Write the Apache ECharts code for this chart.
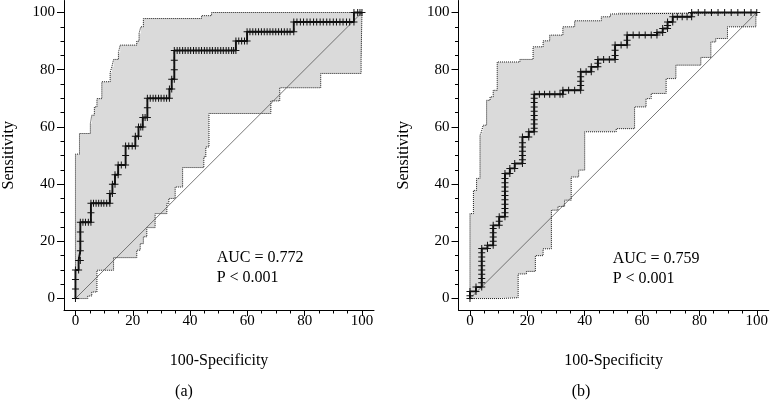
<!DOCTYPE html>
<html><head><meta charset="utf-8">
<script src="https://cdn.jsdelivr.net/npm/echarts@6/dist/echarts.min.js"></script>
<style>html,body{margin:0;padding:0;background:#fff}#c{width:771px;height:401px}</style>
</head><body><div id="c"></div>
<script>
// ---------- data ----------
const majorTicks = [0, 20, 40, 60, 80, 100];
const minorTicks = [5, 10, 15, 25, 30, 35, 45, 50, 55, 65, 70, 75, 85, 90, 95];
const diagonal = [[0, 0], [100, 100]];
const xAxisName = '100-Specificity';
const yAxisName = 'Sensitivity';

const rocA = [[0,0],[0,3.3],[0,6.7],[0,10],[1.1,10],[1.1,13.3],[1.7,13.3],[1.7,16.7],[1.7,20],[1.7,23.3],[1.7,26.7],[2.6,26.7],[3.5,26.7],[4.5,26.7],[5.4,26.7],[5.4,30],[5.4,33.3],[6.3,33.3],[7.2,33.3],[8.1,33.3],[9,33.3],[9.9,33.3],[10.9,33.3],[12,33.3],[12,36.7],[12.9,36.7],[12.9,40],[13.8,40],[13.8,43.3],[14.9,43.3],[14.9,46.7],[16,46.7],[17.5,46.7],[17.5,50],[17.5,53.3],[18.6,53.3],[19.8,53.3],[20.9,53.3],[20.9,56.7],[22,56.7],[22,60],[22.8,60],[23.5,60],[23.5,63.3],[24.3,63.3],[25.1,63.3],[25.1,66.7],[25.1,70],[26.1,70],[27.1,70],[28,70],[29,70],[29.9,70],[30.9,70],[31.8,70],[32.8,70],[32.8,73.3],[33.6,73.3],[33.6,76.7],[34.5,76.7],[34.5,80],[34.5,83.3],[34.5,86.7],[35.5,86.7],[36.4,86.7],[37.4,86.7],[38.3,86.7],[39.3,86.7],[40.2,86.7],[41.2,86.7],[42.1,86.7],[43.1,86.7],[44,86.7],[45,86.7],[45.9,86.7],[46.9,86.7],[47.8,86.7],[48.8,86.7],[49.7,86.7],[50.7,86.7],[51.6,86.7],[52.6,86.7],[53.5,86.7],[54.5,86.7],[55.2,86.7],[56,86.7],[56,90],[57,90],[58,90],[59,90],[59.9,90],[59.9,93.3],[60.9,93.3],[61.9,93.3],[62.9,93.3],[63.9,93.3],[64.9,93.3],[65.9,93.3],[66.9,93.3],[67.9,93.3],[68.9,93.3],[69.9,93.3],[70.9,93.3],[71.9,93.3],[72.9,93.3],[73.9,93.3],[74.9,93.3],[76.2,93.3],[76.2,96.7],[77.3,96.7],[78.5,96.7],[79.6,96.7],[80.8,96.7],[81.9,96.7],[83.1,96.7],[84.2,96.7],[85.4,96.7],[86.5,96.7],[87.7,96.7],[88.8,96.7],[90,96.7],[91.1,96.7],[92.3,96.7],[93.4,96.7],[94.6,96.7],[95.7,96.7],[97.2,96.7],[97.2,100],[98.5,100],[99.3,100],[100,100]];
const upperA = [[0,0],[0,50.5],[1.4,50.5],[1.4,57.7],[5.2,57.7],[5.2,61.2],[5.7,61.2],[5.7,64.1],[6.6,64.1],[6.6,67],[7.5,67],[7.5,69.9],[9.2,69.9],[9.2,75.8],[12.1,75.8],[12.1,79],[12.7,79],[12.7,81],[13.3,81],[13.3,83.6],[15,83.6],[15,86],[15.6,86],[15.6,88.6],[21.4,88.6],[21.4,90],[22.2,90],[22.2,92.7],[22.8,92.7],[22.8,95],[23.7,95],[23.7,97.9],[44,97.9],[44,98.9],[47.5,98.9],[47.5,100],[100,100]];
const lowerA = [[0,0],[4.3,0],[4.3,0.9],[5.7,0.9],[5.7,2.3],[7.5,2.3],[7.5,9.9],[13.3,9.9],[13.3,14.3],[21.4,14.3],[21.4,16.9],[22.6,16.9],[22.6,19.2],[23.7,19.2],[23.7,21.6],[24.9,21.6],[24.9,24.8],[27.8,24.8],[27.8,29.7],[31.9,29.7],[31.9,33.2],[32.6,33.2],[32.6,35],[34.8,35],[34.8,39],[37.4,39],[37.4,45.8],[44.8,45.8],[44.8,49.5],[45.5,49.5],[45.5,53],[46.6,53],[46.6,64.7],[68.2,64.7],[68.2,69.1],[71.3,69.1],[71.3,73.7],[85.6,73.7],[85.6,78.7],[99.7,78.7],[99.7,84.5],[100,84.5],[100,100]];

const rocB = [[0,0],[0,1],[0,2.5],[2.1,2.5],[2.1,4],[4.1,4],[4.1,5.5],[4.1,7],[4.1,8.5],[4.1,10],[4.1,11.5],[4.1,13],[4.1,14.5],[4.1,16],[4.1,17.5],[6.1,17.5],[6.1,18.6],[8.1,18.6],[8.1,20],[8.1,21.5],[8.1,23],[8.1,24.5],[8.1,25.6],[10.2,25.6],[10.2,27],[10.2,28.6],[12.2,28.6],[12.2,30],[12.2,31.5],[12.2,33],[12.2,34.5],[12.2,36],[12.2,37.5],[12.2,39],[12.2,40.5],[12.2,42],[12.2,43.7],[13.9,43.7],[13.9,45.5],[15.6,45.5],[15.6,47.2],[18.3,47.2],[18.3,48.5],[18.3,50],[18.3,51.5],[18.3,53],[18.3,54.5],[18.3,56.5],[20.5,56.5],[20.5,58.3],[22.4,58.3],[22.4,59.5],[22.4,61],[22.4,62.5],[22.4,64],[22.4,65.5],[22.4,67],[22.4,68.5],[22.4,70],[22.4,71.4],[24.2,71.4],[26,71.4],[27.8,71.4],[29.6,71.4],[31.4,71.4],[32.4,71.4],[32.4,72.8],[34.4,72.8],[36.5,72.8],[38.6,72.8],[38.6,74.5],[38.6,76],[38.6,77.5],[38.6,79.3],[40.5,79.3],[42.3,79.3],[42.3,81],[44.6,81],[44.6,82.3],[44.6,83.6],[46.6,83.6],[48.6,83.6],[50.6,83.6],[50.6,85],[50.6,86.8],[50.6,88.6],[52.7,88.6],[54.8,88.6],[54.8,90.3],[54.8,92.1],[56.9,92.1],[59,92.1],[61.1,92.1],[63.2,92.1],[65.2,92.1],[65.2,93],[67.2,93],[67.2,94.4],[68.9,94.4],[68.9,95.5],[68.9,96.7],[70.7,96.7],[70.7,98.5],[72.3,98.5],[74,98.5],[75.7,98.5],[77.3,98.5],[77.3,100],[79.6,100],[81.9,100],[84.2,100],[86.5,100],[88.8,100],[91.1,100],[93.4,100],[95.7,100],[98,100],[100,100]];
const upperB = [[0,0],[0,29.7],[1.2,29.7],[1.2,37.8],[2.3,37.8],[2.3,42],[3.5,42],[3.5,57.1],[4,57.1],[4,58.3],[4.6,58.3],[4.6,60.6],[5.8,60.6],[5.8,69.3],[7,69.3],[7,70.5],[8.1,70.5],[8.1,72.8],[9.5,72.8],[9.5,82.7],[17.4,82.7],[17.4,83.6],[22,83.6],[22,88],[25.5,88],[25.5,90.1],[27.8,90.1],[27.8,92.1],[32.4,92.1],[32.4,95],[36.5,95],[36.5,97.1],[45.8,97.1],[45.8,98.5],[49,98.5],[49,99.5],[51.6,99.5],[51.6,100],[100,100]];
const lowerB = [[0,0],[10.4,0],[10.4,0.3],[16.8,0.3],[16.8,8.6],[19.7,8.6],[19.7,9.5],[22.8,9.5],[22.8,15],[25.5,15],[25.5,17.4],[28.4,17.4],[28.4,30.9],[30.7,30.9],[30.7,32.2],[33,32.2],[33,34.4],[35.3,34.4],[35.3,42.5],[37.9,42.5],[37.9,44.9],[40,44.9],[40,58.3],[51,58.3],[51,59.4],[57.4,59.4],[57.4,67],[61.4,67],[61.4,69.9],[63.2,69.9],[63.2,71.7],[68.4,71.7],[68.4,76.9],[71.8,76.9],[71.8,81.6],[80.5,81.6],[80.5,84.3],[84,84.3],[84,89.7],[85.7,89.7],[85.7,90.9],[89.8,90.9],[89.8,95],[99.7,95],[99.7,100],[100,100]];

const aucTexts = ['AUC = 0.772', 'AUC = 0.759'];
const pTexts = ['P < 0.001', 'P < 0.001'];
const captions = ['(a)', '(b)'];

// ---------- layout / style ----------
const FONT = '"Liberation Serif", "DejaVu Serif", serif';
const layout = [
  { left: 63.5, aucX: 216.7, aucY: 257.5, capX: 184 },
  { left: 458.5, aucX: 612.7, aucY: 258.5, capX: 581 }
];
const panels = [
  { roc: rocA, upper: upperA, lower: lowerA },
  { roc: rocB, upper: upperB, lower: lowerB }
];
const AX_MIN = -4, AX_MAX = 104.2;
const plusPath = 'path://M3,0H4V3H7V4H4V7H3V4H0V3H3Z';

const grids = [], xAxes = [], yAxes = [], series = [], graphics = [];
panels.forEach((p, i) => {
  const L = layout[i];
  grids.push({ left: L.left, top: 0.5, width: 310.5, height: 309.5, containLabel: false });
  const common = { type: 'value', min: AX_MIN, max: AX_MAX, gridIndex: i, splitLine: { show: false } };
  xAxes.push(Object.assign({}, common, {
    position: 'bottom',
    name: xAxisName, nameLocation: 'middle', nameGap: 43,
    nameTextStyle: { fontFamily: FONT, fontSize: 16, color: '#000' },
    axisLine: { show: true, onZero: false, lineStyle: { color: '#000', width: 1 } },
    axisTick: { show: true, inside: false, length: 6, customValues: majorTicks, lineStyle: { color: '#000', width: 1 } },
    axisLabel: { show: true, customValues: majorTicks, margin: 4, fontFamily: FONT, fontSize: 15, color: '#000' }
  }));
  xAxes.push(Object.assign({}, common, {
    position: 'bottom',
    axisLine: { show: false, onZero: false },
    axisTick: { show: true, inside: false, length: 3.5, customValues: minorTicks, lineStyle: { color: '#000', width: 1 } },
    axisLabel: { show: false }
  }));
  yAxes.push(Object.assign({}, common, {
    position: 'left',
    name: yAxisName, nameLocation: 'middle', nameGap: 47,
    nameTextStyle: { fontFamily: FONT, fontSize: 16, color: '#000' },
    axisLine: { show: true, onZero: false, lineStyle: { color: '#000', width: 1 } },
    axisTick: { show: true, inside: false, length: 7, customValues: majorTicks, lineStyle: { color: '#000', width: 1 } },
    axisLabel: { show: true, customValues: majorTicks, margin: 9, fontFamily: FONT, fontSize: 15, color: '#000' }
  }));
  yAxes.push(Object.assign({}, common, {
    position: 'left',
    axisLine: { show: false, onZero: false },
    axisTick: { show: true, inside: false, length: 3.5, customValues: minorTicks, lineStyle: { color: '#000', width: 1 } },
    axisLabel: { show: false }
  }));

  const xi = 2 * i, yi = 2 * i;
  const bandPts = p.upper.concat(p.lower.slice().reverse());
  series.push({
    type: 'custom', xAxisIndex: xi, yAxisIndex: yi, z: 1, silent: true,
    data: bandPts,
    renderItem: function (params, api) {
      if (params.dataIndex !== 0) return null;
      const pts = bandPts.map(d => api.coord(d));
      return { type: 'polygon', shape: { points: pts }, style: { fill: '#dadada', stroke: null } };
    }
  });
  [p.upper, p.lower].forEach(b => series.push({
    type: 'line', xAxisIndex: xi, yAxisIndex: yi, z: 2, data: b, symbol: 'none', silent: true,
    lineStyle: { color: '#1a1a1a', width: 1, type: [1, 1] }
  }));
  series.push({
    type: 'line', xAxisIndex: xi, yAxisIndex: yi, z: 3, data: diagonal, symbol: 'none', silent: true,
    lineStyle: { color: '#555', width: 0.8 }
  });
  series.push({
    type: 'line', xAxisIndex: xi, yAxisIndex: yi, z: 4, data: p.roc, silent: true,
    showAllSymbol: true, symbol: plusPath, symbolSize: 7,
    itemStyle: { color: '#111' },
    lineStyle: { color: '#111', width: 1.9 }
  });

  graphics.push({ type: 'text', x: L.aucX, y: L.aucY, style: { text: aucTexts[i], font: '16px ' + FONT, fill: '#000', align: 'left', verticalAlign: 'middle' } });
  graphics.push({ type: 'text', x: L.aucX, y: L.aucY + 20, style: { text: pTexts[i], font: '16px ' + FONT, fill: '#000', align: 'left', verticalAlign: 'middle' } });
  graphics.push({ type: 'text', x: L.capX, y: 392, style: { text: captions[i], font: '16px ' + FONT, fill: '#000', align: 'center', verticalAlign: 'middle' } });
});

const chart = echarts.init(document.getElementById('c'), null, { renderer: 'canvas' });
chart.setOption({
  animation: false,
  backgroundColor: '#fff',
  grid: grids, xAxis: xAxes, yAxis: yAxes, series: series, graphic: graphics
});
</script></body></html>
